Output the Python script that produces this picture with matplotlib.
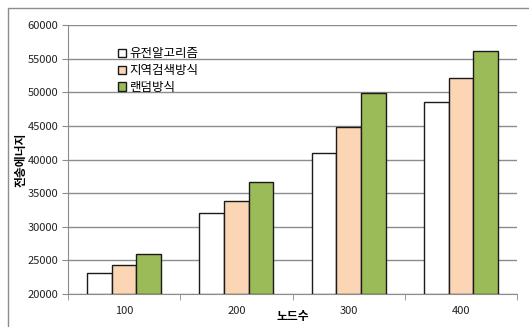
import numpy as np
import matplotlib.pyplot as plt
from matplotlib.patches import Rectangle

plt.rcParams['font.family'] = ['Noto Sans CJK KR', 'DejaVu Sans']

# node count categories and energy per method
nodes = ['100', '200', '300', '400']
series_names = ['유전알고리즘', '지역검색방식', '랜덤방식']
genetic = [23100, 32100, 41000, 48600]
local_search = [24300, 33900, 44800, 52100]
random_way = [25900, 36600, 49900, 56200]
colors = ['#FFFFFF', '#FCD5B5', '#9BBB59']

fig = plt.figure(figsize=(5.29, 3.27), dpi=100)
ax = fig.add_axes([68/529, 1-294/327, 449/529, 269/327])

# outer chart frame
fig.patches.append(Rectangle((8/529, -0.2), 1.2, 1.2 - 8/327,
                             transform=fig.transFigure, fill=False,
                             edgecolor='#8c8c8c', linewidth=1.0))

x = np.arange(len(nodes))
w = 0.22
for i, (vals, name) in enumerate(zip([genetic, local_search, random_way], series_names)):
    ax.bar(x + (i - 1) * w, np.array(vals) - 20000, bottom=20000, width=w,
           color=colors[i], edgecolor='#1a1a1a', linewidth=1.0, label=name, zorder=3)

ax.set_ylim(20000, 60000)
ax.set_xlim(-0.5, 3.5)
ax.set_yticks(range(20000, 60001, 5000))
ax.yaxis.grid(True, color='#8c8c8c', linewidth=1.0, zorder=0)
ax.set_axisbelow(True)

ax.set_xticks(x)
ax.set_xticklabels(nodes)
ax.set_xticks(np.arange(-0.5, 4, 1), minor=True)
ax.tick_params(axis='x', which='major', length=0, pad=9, labelsize=8, colors='#222222')
ax.tick_params(axis='x', which='minor', length=4, color='#8c8c8c', direction='out')
ax.tick_params(axis='y', length=4, color='#8c8c8c', labelsize=8, pad=3, colors='#222222')
ax.tick_params(axis='y', color='#8c8c8c')

for s in ['top', 'right']:
    ax.spines[s].set_visible(False)
ax.spines['left'].set_color('#8c8c8c')
ax.spines['bottom'].set_color('#8c8c8c')

ax.set_ylabel('전송에너지', fontsize=8.5, fontweight='bold')
ax.yaxis.set_label_coords(-0.09, 0.5)
ax.set_xlabel('노드수', fontsize=8.5, fontweight='bold')
ax.xaxis.set_label_coords(0.5, -0.06)

leg = ax.legend(loc='upper left', bbox_to_anchor=(0.1, 0.935), frameon=False,
                fontsize=9, handlelength=0.65, handleheight=0.65, handletextpad=0.3,
                labelspacing=0.3, borderaxespad=0)

fig.savefig('out.png', dpi=100)
